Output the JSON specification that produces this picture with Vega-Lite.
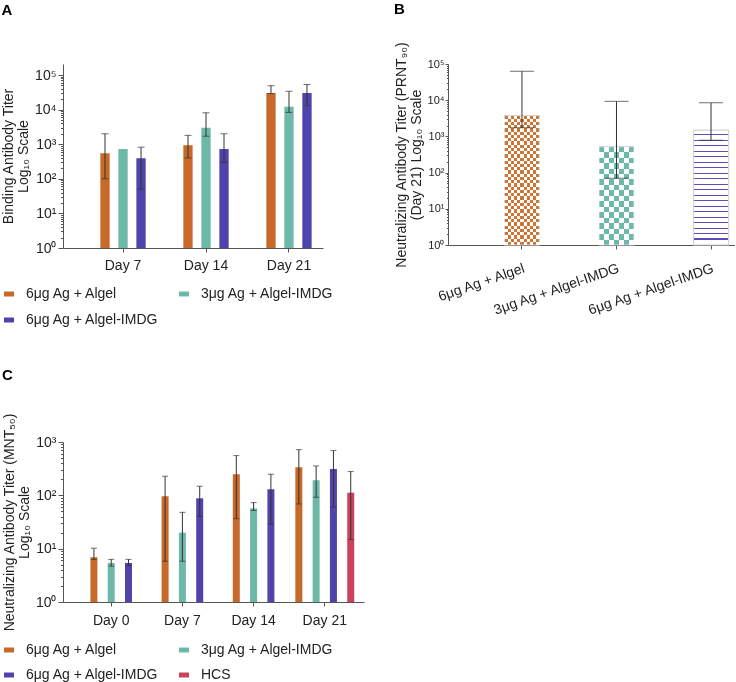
{
  "$schema": "https://vega.github.io/schema/vega-lite/v6.json",
  "background": "white",
  "padding": {"left": 1, "top": 2, "right": 0, "bottom": 0},
  "config": {
    "font": "Liberation Sans",
    "view": {"stroke": null},
    "axis": {"grid": false, "domainColor": "#555", "tickColor": "#555", "labelColor": "#222", "labelFont": "Liberation Sans", "labelFontSize": 14, "titleFont": "Liberation Sans", "titleFontSize": 14, "titleFontWeight": "normal", "titleColor": "#222", "labelOverlap": false, "titleLineHeight": 15},
    "legend": {"orient": "none", "columns": 2, "labelFont": "Liberation Sans", "labelFontSize": 14, "labelColor": "#222", "symbolType": "M-1,-0.5H1V0.5H-1Z", "symbolSize": 100, "symbolStrokeWidth": 0, "symbolOpacity": 1, "labelOffset": 10, "columnPadding": 18, "rowPadding": 12, "labelLimit": 300},
    "title": {"font": "Liberation Sans", "fontSize": 15, "fontWeight": "bold", "anchor": "start", "frame": "bounds", "color": "#000"}
  },
  "spacing": 40,
  "resolve": {"scale": {"color": "independent"}, "legend": {"color": "independent"}},
  "vconcat": [
    {
      "spacing": 60,
      "align": "none",
      "resolve": {"scale": {"color": "independent"}, "legend": {"color": "independent"}},
      "hconcat": [
        {
          "title": {"text": "A", "offset": 46},
          "width": 260,
          "height": 184,
          "data": {"values": [
            {"day": "Day 7", "group": "6μg Ag + Algel", "value": 550, "lo": 100, "hi": 2000},
            {"day": "Day 7", "group": "3μg Ag + Algel-IMDG", "value": 730, "lo": null, "hi": null},
            {"day": "Day 7", "group": "6μg Ag + Algel-IMDG", "value": 390, "lo": 50, "hi": 820},
            {"day": "Day 14", "group": "6μg Ag + Algel", "value": 930, "lo": 400, "hi": 1800},
            {"day": "Day 14", "group": "3μg Ag + Algel-IMDG", "value": 3000, "lo": 1700, "hi": 8100},
            {"day": "Day 14", "group": "6μg Ag + Algel-IMDG", "value": 730, "lo": 300, "hi": 2000},
            {"day": "Day 21", "group": "6μg Ag + Algel", "value": 30000, "lo": 29000, "hi": 49000},
            {"day": "Day 21", "group": "3μg Ag + Algel-IMDG", "value": 12000, "lo": 8300, "hi": 34000},
            {"day": "Day 21", "group": "6μg Ag + Algel-IMDG", "value": 30000, "lo": 13000, "hi": 53000}
          ]},
          "encoding": {
            "x": {"field": "day", "type": "nominal", "sort": ["Day 7", "Day 14", "Day 21"],
                  "scale": {"paddingInner": 0.349, "paddingOuter": 0.241, "align": 0.825},
                  "axis": {"title": null, "labelAngle": 0, "tickSize": 4, "labelPadding": 6}},
            "xOffset": {"field": "group", "type": "nominal",
                  "scale": {"domain": ["6μg Ag + Algel", "3μg Ag + Algel-IMDG", "6μg Ag + Algel-IMDG"], "paddingInner": 0.483, "paddingOuter": 0.2415}}
          },
          "layer": [
            {
              "mark": {"type": "bar"},
              "encoding": {
                "y": {"field": "value", "type": "quantitative",
                      "scale": {"type": "log", "domain": [1, 207970], "nice": false},
                      "axis": {"title": ["Binding Antibody Titer", "Log₁₀ Scale"], "titlePadding": 4, "labelPadding": 2, "tickSize": 5,
                               "values": [1,2,3,4,5,6,7,8,9,10,20,30,40,50,60,70,80,90,100,200,300,400,500,600,700,800,900,1000,2000,3000,4000,5000,6000,7000,8000,9000,10000,20000,30000,40000,50000,60000,70000,80000,90000,100000],
                               "labelExpr": "abs(log(datum.value)/LN10 - round(log(datum.value)/LN10)) < 0.01 ? '10' + ['⁰','¹','²','³','⁴','⁵'][round(log(datum.value)/LN10)] : ''",
                               "tickDash": {"condition": {"test": "abs(log(datum.value)/LN10 - round(log(datum.value)/LN10)) < 0.01", "value": []}, "value": [2.5, 20]}}},
                "y2": {"datum": 1},
                "color": {"field": "group", "type": "nominal",
                          "scale": {"domain": ["6μg Ag + Algel", "6μg Ag + Algel-IMDG", "3μg Ag + Algel-IMDG"], "range": ["#c8692a", "#5044ab", "#6db9a9"]},
                          "legend": {"title": null, "legendX": -61, "legendY": 223}}
              }
            },
            {
              "mark": {"type": "rule", "color": "#333", "strokeWidth": 1},
              "encoding": {"y": {"field": "lo", "type": "quantitative", "scale": {"type": "log", "domain": [1, 207970], "nice": false}}, "y2": {"field": "hi"}}
            },
            {
              "mark": {"type": "tick", "orient": "horizontal", "size": 7, "thickness": 1, "color": "#333"},
              "encoding": {"y": {"field": "hi", "type": "quantitative", "scale": {"type": "log", "domain": [1, 207970], "nice": false}}}
            },
            {
              "mark": {"type": "tick", "orient": "horizontal", "size": 7, "thickness": 1, "color": "#333"},
              "encoding": {"y": {"field": "lo", "type": "quantitative", "scale": {"type": "log", "domain": [1, 207970], "nice": false}}}
            }
          ]
        },
        {
          "title": {"text": "B", "offset": 24},
          "width": 287,
          "height": 181,
          "data": {"values": [
            {"group": "6μg Ag + Algel", "value": 3800, "lo": 1740, "hi": 63000},
            {"group": "3μg Ag + Algel-IMDG", "value": 520, "lo": 70, "hi": 9300},
            {"group": "6μg Ag + Algel-IMDG", "value": 1500, "lo": 780, "hi": 8500}
          ]},
          "encoding": {
            "x": {"field": "group", "type": "nominal", "sort": ["6μg Ag + Algel", "3μg Ag + Algel-IMDG", "6μg Ag + Algel-IMDG"],
                  "scale": {"paddingInner": 0.63, "paddingOuter": 0.333, "align": 0.897},
                  "axis": {"title": null, "labelAngle": -19, "labelAlign": "right", "labelBaseline": "top", "tickSize": 4, "labelPadding": 12}}
          },
          "layer": [
            {
              "transform": [{"filter": "datum.group == '6μg Ag + Algel'"}],
              "mark": {"type": "bar", "fill": {"gradient": "linear", "x1": 0, "y1": 0, "x2": 0, "y2": 1, "stops": [
                {"offset": 0, "color": "#000"}, {"offset": 0.025, "color": "#000"}, {"offset": 0.025, "color": "#fff"}, {"offset": 0.05, "color": "#fff"},
                {"offset": 0.05, "color": "#000"}, {"offset": 0.075, "color": "#000"}, {"offset": 0.075, "color": "#fff"}, {"offset": 0.1, "color": "#fff"},
                {"offset": 0.1, "color": "#000"}, {"offset": 0.125, "color": "#000"}, {"offset": 0.125, "color": "#fff"}, {"offset": 0.15, "color": "#fff"},
                {"offset": 0.15, "color": "#000"}, {"offset": 0.175, "color": "#000"}, {"offset": 0.175, "color": "#fff"}, {"offset": 0.2, "color": "#fff"},
                {"offset": 0.2, "color": "#000"}, {"offset": 0.225, "color": "#000"}, {"offset": 0.225, "color": "#fff"}, {"offset": 0.25, "color": "#fff"},
                {"offset": 0.25, "color": "#000"}, {"offset": 0.275, "color": "#000"}, {"offset": 0.275, "color": "#fff"}, {"offset": 0.3, "color": "#fff"},
                {"offset": 0.3, "color": "#000"}, {"offset": 0.325, "color": "#000"}, {"offset": 0.325, "color": "#fff"}, {"offset": 0.35, "color": "#fff"},
                {"offset": 0.35, "color": "#000"}, {"offset": 0.375, "color": "#000"}, {"offset": 0.375, "color": "#fff"}, {"offset": 0.4, "color": "#fff"},
                {"offset": 0.4, "color": "#000"}, {"offset": 0.425, "color": "#000"}, {"offset": 0.425, "color": "#fff"}, {"offset": 0.45, "color": "#fff"},
                {"offset": 0.45, "color": "#000"}, {"offset": 0.475, "color": "#000"}, {"offset": 0.475, "color": "#fff"}, {"offset": 0.5, "color": "#fff"},
                {"offset": 0.5, "color": "#000"}, {"offset": 0.525, "color": "#000"}, {"offset": 0.525, "color": "#fff"}, {"offset": 0.55, "color": "#fff"},
                {"offset": 0.55, "color": "#000"}, {"offset": 0.575, "color": "#000"}, {"offset": 0.575, "color": "#fff"}, {"offset": 0.6, "color": "#fff"},
                {"offset": 0.6, "color": "#000"}, {"offset": 0.625, "color": "#000"}, {"offset": 0.625, "color": "#fff"}, {"offset": 0.65, "color": "#fff"},
                {"offset": 0.65, "color": "#000"}, {"offset": 0.675, "color": "#000"}, {"offset": 0.675, "color": "#fff"}, {"offset": 0.7, "color": "#fff"},
                {"offset": 0.7, "color": "#000"}, {"offset": 0.725, "color": "#000"}, {"offset": 0.725, "color": "#fff"}, {"offset": 0.75, "color": "#fff"},
                {"offset": 0.75, "color": "#000"}, {"offset": 0.775, "color": "#000"}, {"offset": 0.775, "color": "#fff"}, {"offset": 0.8, "color": "#fff"},
                {"offset": 0.8, "color": "#000"}, {"offset": 0.825, "color": "#000"}, {"offset": 0.825, "color": "#fff"}, {"offset": 0.85, "color": "#fff"},
                {"offset": 0.85, "color": "#000"}, {"offset": 0.875, "color": "#000"}, {"offset": 0.875, "color": "#fff"}, {"offset": 0.9, "color": "#fff"},
                {"offset": 0.9, "color": "#000"}, {"offset": 0.925, "color": "#000"}, {"offset": 0.925, "color": "#fff"}, {"offset": 0.95, "color": "#fff"},
                {"offset": 0.95, "color": "#000"}, {"offset": 0.975, "color": "#000"}, {"offset": 0.975, "color": "#fff"}, {"offset": 1, "color": "#fff"}
              ]}},
              "encoding": {
                "y": {"field": "value", "type": "quantitative",
                      "scale": {"type": "log", "domain": [1, 100000], "nice": false},
                      "axis": {"title": ["Neutralizing Antibody Titer (PRNT₉₀)", "(Day 21) Log₁₀ Scale"], "titlePadding": 4, "labelPadding": 1, "tickSize": 3, "labelFontSize": 11,
                               "values": [1,2,3,4,5,6,7,8,9,10,20,30,40,50,60,70,80,90,100,200,300,400,500,600,700,800,900,1000,2000,3000,4000,5000,6000,7000,8000,9000,10000,20000,30000,40000,50000,60000,70000,80000,90000,100000],
                               "labelExpr": "abs(log(datum.value)/LN10 - round(log(datum.value)/LN10)) < 0.01 ? '10' + ['⁰','¹','²','³','⁴','⁵'][round(log(datum.value)/LN10)] : ''",
                               "tickDash": {"condition": {"test": "abs(log(datum.value)/LN10 - round(log(datum.value)/LN10)) < 0.01", "value": []}, "value": [1.5, 20]}}},
                "y2": {"datum": 1}
              }
            },
            {
              "transform": [{"filter": "datum.group == '6μg Ag + Algel'"}],
              "mark": {"type": "bar", "blend": "difference", "fill": {"gradient": "linear", "x1": 0, "y1": 0, "x2": 1, "y2": 0, "stops": [
                {"offset": 0, "color": "#000"}, {"offset": 0.0909, "color": "#000"}, {"offset": 0.0909, "color": "#fff"}, {"offset": 0.1818, "color": "#fff"},
                {"offset": 0.1818, "color": "#000"}, {"offset": 0.2727, "color": "#000"}, {"offset": 0.2727, "color": "#fff"}, {"offset": 0.3636, "color": "#fff"},
                {"offset": 0.3636, "color": "#000"}, {"offset": 0.4545, "color": "#000"}, {"offset": 0.4545, "color": "#fff"}, {"offset": 0.5455, "color": "#fff"},
                {"offset": 0.5455, "color": "#000"}, {"offset": 0.6364, "color": "#000"}, {"offset": 0.6364, "color": "#fff"}, {"offset": 0.7273, "color": "#fff"},
                {"offset": 0.7273, "color": "#000"}, {"offset": 0.8182, "color": "#000"}, {"offset": 0.8182, "color": "#fff"}, {"offset": 0.9091, "color": "#fff"},
                {"offset": 0.9091, "color": "#000"}, {"offset": 1, "color": "#000"}
              ]}},
              "encoding": {"y": {"field": "value", "type": "quantitative", "scale": {"type": "log", "domain": [1, 100000], "nice": false}}, "y2": {"datum": 1}}
            },
            {
              "transform": [{"filter": "datum.group == '6μg Ag + Algel'"}],
              "mark": {"type": "bar", "blend": "lighten", "fill": "#cf7432", "stroke": "#d4d4d4", "strokeWidth": 1.2},
              "encoding": {"y": {"field": "value", "type": "quantitative", "scale": {"type": "log", "domain": [1, 100000], "nice": false}}, "y2": {"datum": 1}}
            },
            {
              "transform": [{"filter": "datum.group == '3μg Ag + Algel-IMDG'"}],
              "mark": {"type": "bar", "fill": {"gradient": "linear", "x1": 0, "y1": 0, "x2": 0, "y2": 1, "stops": [
                {"offset": 0, "color": "#000"}, {"offset": 0.0556, "color": "#000"}, {"offset": 0.0556, "color": "#fff"}, {"offset": 0.1111, "color": "#fff"},
                {"offset": 0.1111, "color": "#000"}, {"offset": 0.1667, "color": "#000"}, {"offset": 0.1667, "color": "#fff"}, {"offset": 0.2222, "color": "#fff"},
                {"offset": 0.2222, "color": "#000"}, {"offset": 0.2778, "color": "#000"}, {"offset": 0.2778, "color": "#fff"}, {"offset": 0.3333, "color": "#fff"},
                {"offset": 0.3333, "color": "#000"}, {"offset": 0.3889, "color": "#000"}, {"offset": 0.3889, "color": "#fff"}, {"offset": 0.4444, "color": "#fff"},
                {"offset": 0.4444, "color": "#000"}, {"offset": 0.5, "color": "#000"}, {"offset": 0.5, "color": "#fff"}, {"offset": 0.5556, "color": "#fff"},
                {"offset": 0.5556, "color": "#000"}, {"offset": 0.6111, "color": "#000"}, {"offset": 0.6111, "color": "#fff"}, {"offset": 0.6667, "color": "#fff"},
                {"offset": 0.6667, "color": "#000"}, {"offset": 0.7222, "color": "#000"}, {"offset": 0.7222, "color": "#fff"}, {"offset": 0.7778, "color": "#fff"},
                {"offset": 0.7778, "color": "#000"}, {"offset": 0.8333, "color": "#000"}, {"offset": 0.8333, "color": "#fff"}, {"offset": 0.8889, "color": "#fff"},
                {"offset": 0.8889, "color": "#000"}, {"offset": 0.9444, "color": "#000"}, {"offset": 0.9444, "color": "#fff"}, {"offset": 1, "color": "#fff"}
              ]}},
              "encoding": {"y": {"field": "value", "type": "quantitative", "scale": {"type": "log", "domain": [1, 100000], "nice": false}}, "y2": {"datum": 1}}
            },
            {
              "transform": [{"filter": "datum.group == '3μg Ag + Algel-IMDG'"}],
              "mark": {"type": "bar", "blend": "difference", "fill": {"gradient": "linear", "x1": 0, "y1": 0, "x2": 1, "y2": 0, "stops": [
                {"offset": 0, "color": "#000"}, {"offset": 0.1429, "color": "#000"}, {"offset": 0.1429, "color": "#fff"}, {"offset": 0.2857, "color": "#fff"},
                {"offset": 0.2857, "color": "#000"}, {"offset": 0.4286, "color": "#000"}, {"offset": 0.4286, "color": "#fff"}, {"offset": 0.5714, "color": "#fff"},
                {"offset": 0.5714, "color": "#000"}, {"offset": 0.7143, "color": "#000"}, {"offset": 0.7143, "color": "#fff"}, {"offset": 0.8571, "color": "#fff"},
                {"offset": 0.8571, "color": "#000"}, {"offset": 1, "color": "#000"}
              ]}},
              "encoding": {"y": {"field": "value", "type": "quantitative", "scale": {"type": "log", "domain": [1, 100000], "nice": false}}, "y2": {"datum": 1}}
            },
            {
              "transform": [{"filter": "datum.group == '3μg Ag + Algel-IMDG'"}],
              "mark": {"type": "bar", "blend": "lighten", "fill": "#6db9a9", "stroke": "#d4d4d4", "strokeWidth": 1.2},
              "encoding": {"y": {"field": "value", "type": "quantitative", "scale": {"type": "log", "domain": [1, 100000], "nice": false}}, "y2": {"datum": 1}}
            },
            {
              "transform": [{"filter": "datum.group == '6μg Ag + Algel-IMDG'"}],
              "mark": {"type": "bar", "stroke": "#d4d4d4", "strokeWidth": 1.2, "fill": {"gradient": "linear", "x1": 0, "y1": 0, "x2": 0, "y2": 1, "stops": [
                {"offset": 0, "color": "#fff"}, {"offset": 0.0386, "color": "#fff"}, {"offset": 0.0386, "color": "#5a4fba"}, {"offset": 0.0476, "color": "#5a4fba"},
                {"offset": 0.0476, "color": "#fff"}, {"offset": 0.0862, "color": "#fff"}, {"offset": 0.0862, "color": "#5a4fba"}, {"offset": 0.0952, "color": "#5a4fba"},
                {"offset": 0.0952, "color": "#fff"}, {"offset": 0.1339, "color": "#fff"}, {"offset": 0.1339, "color": "#5a4fba"}, {"offset": 0.1429, "color": "#5a4fba"},
                {"offset": 0.1429, "color": "#fff"}, {"offset": 0.1815, "color": "#fff"}, {"offset": 0.1815, "color": "#5a4fba"}, {"offset": 0.1905, "color": "#5a4fba"},
                {"offset": 0.1905, "color": "#fff"}, {"offset": 0.2291, "color": "#fff"}, {"offset": 0.2291, "color": "#5a4fba"}, {"offset": 0.2381, "color": "#5a4fba"},
                {"offset": 0.2381, "color": "#fff"}, {"offset": 0.2767, "color": "#fff"}, {"offset": 0.2767, "color": "#5a4fba"}, {"offset": 0.2857, "color": "#5a4fba"},
                {"offset": 0.2857, "color": "#fff"}, {"offset": 0.3243, "color": "#fff"}, {"offset": 0.3243, "color": "#5a4fba"}, {"offset": 0.3333, "color": "#5a4fba"},
                {"offset": 0.3333, "color": "#fff"}, {"offset": 0.372, "color": "#fff"}, {"offset": 0.372, "color": "#5a4fba"}, {"offset": 0.381, "color": "#5a4fba"},
                {"offset": 0.381, "color": "#fff"}, {"offset": 0.4196, "color": "#fff"}, {"offset": 0.4196, "color": "#5a4fba"}, {"offset": 0.4286, "color": "#5a4fba"},
                {"offset": 0.4286, "color": "#fff"}, {"offset": 0.4672, "color": "#fff"}, {"offset": 0.4672, "color": "#5a4fba"}, {"offset": 0.4762, "color": "#5a4fba"},
                {"offset": 0.4762, "color": "#fff"}, {"offset": 0.5148, "color": "#fff"}, {"offset": 0.5148, "color": "#5a4fba"}, {"offset": 0.5238, "color": "#5a4fba"},
                {"offset": 0.5238, "color": "#fff"}, {"offset": 0.5624, "color": "#fff"}, {"offset": 0.5624, "color": "#5a4fba"}, {"offset": 0.5714, "color": "#5a4fba"},
                {"offset": 0.5714, "color": "#fff"}, {"offset": 0.61, "color": "#fff"}, {"offset": 0.61, "color": "#5a4fba"}, {"offset": 0.619, "color": "#5a4fba"},
                {"offset": 0.619, "color": "#fff"}, {"offset": 0.6577, "color": "#fff"}, {"offset": 0.6577, "color": "#5a4fba"}, {"offset": 0.6667, "color": "#5a4fba"},
                {"offset": 0.6667, "color": "#fff"}, {"offset": 0.7053, "color": "#fff"}, {"offset": 0.7053, "color": "#5a4fba"}, {"offset": 0.7143, "color": "#5a4fba"},
                {"offset": 0.7143, "color": "#fff"}, {"offset": 0.7529, "color": "#fff"}, {"offset": 0.7529, "color": "#5a4fba"}, {"offset": 0.7619, "color": "#5a4fba"},
                {"offset": 0.7619, "color": "#fff"}, {"offset": 0.8005, "color": "#fff"}, {"offset": 0.8005, "color": "#5a4fba"}, {"offset": 0.8095, "color": "#5a4fba"},
                {"offset": 0.8095, "color": "#fff"}, {"offset": 0.8481, "color": "#fff"}, {"offset": 0.8481, "color": "#5a4fba"}, {"offset": 0.8571, "color": "#5a4fba"},
                {"offset": 0.8571, "color": "#fff"}, {"offset": 0.8958, "color": "#fff"}, {"offset": 0.8958, "color": "#5a4fba"}, {"offset": 0.9048, "color": "#5a4fba"},
                {"offset": 0.9048, "color": "#fff"}, {"offset": 0.9434, "color": "#fff"}, {"offset": 0.9434, "color": "#5a4fba"}, {"offset": 0.9524, "color": "#5a4fba"},
                {"offset": 0.9524, "color": "#fff"}, {"offset": 1, "color": "#fff"}
              ]}},
              "encoding": {"y": {"field": "value", "type": "quantitative", "scale": {"type": "log", "domain": [1, 100000], "nice": false}}, "y2": {"datum": 1}}
            },
            {
              "mark": {"type": "rule", "color": "#333", "strokeWidth": 1},
              "encoding": {"y": {"field": "lo", "type": "quantitative", "scale": {"type": "log", "domain": [1, 100000], "nice": false}}, "y2": {"field": "hi"}}
            },
            {
              "mark": {"type": "tick", "orient": "horizontal", "size": 24, "thickness": 1, "color": "#333"},
              "encoding": {"y": {"field": "hi", "type": "quantitative", "scale": {"type": "log", "domain": [1, 100000], "nice": false}}}
            },
            {
              "mark": {"type": "tick", "orient": "horizontal", "size": 24, "thickness": 1, "color": "#333"},
              "encoding": {"y": {"field": "lo", "type": "quantitative", "scale": {"type": "log", "domain": [1, 100000], "nice": false}}}
            }
          ]
        }
      ]
    },
    {
      "title": {"text": "C", "offset": 30},
      "width": 301,
      "height": 160,
      "data": {"values": [
        {"day": "Day 0", "group": "6μg Ag + Algel", "value": 6.9, "lo": 6.3, "hi": 10.2},
        {"day": "Day 0", "group": "3μg Ag + Algel-IMDG", "value": 5.4, "lo": 4.7, "hi": 6.3},
        {"day": "Day 0", "group": "6μg Ag + Algel-IMDG", "value": 5.4, "lo": 4.8, "hi": 6.3},
        {"day": "Day 7", "group": "6μg Ag + Algel", "value": 96, "lo": 5.8, "hi": 228},
        {"day": "Day 7", "group": "3μg Ag + Algel-IMDG", "value": 20, "lo": 5.8, "hi": 48},
        {"day": "Day 7", "group": "6μg Ag + Algel-IMDG", "value": 88, "lo": 40, "hi": 148},
        {"day": "Day 14", "group": "6μg Ag + Algel", "value": 249, "lo": 36.5, "hi": 556},
        {"day": "Day 14", "group": "3μg Ag + Algel-IMDG", "value": 57, "lo": 52, "hi": 73},
        {"day": "Day 14", "group": "6μg Ag + Algel-IMDG", "value": 130, "lo": 28.7, "hi": 249},
        {"day": "Day 21", "group": "6μg Ag + Algel", "value": 337, "lo": 69, "hi": 719},
        {"day": "Day 21", "group": "3μg Ag + Algel-IMDG", "value": 192, "lo": 92, "hi": 356},
        {"day": "Day 21", "group": "6μg Ag + Algel-IMDG", "value": 313, "lo": 60, "hi": 690},
        {"day": "Day 21", "group": "HCS", "value": 112, "lo": 14.8, "hi": 279}
      ]},
      "encoding": {
        "x": {"field": "day", "type": "nominal", "sort": ["Day 0", "Day 7", "Day 14", "Day 21"],
              "scale": {"domain": ["Day 0", "Day 7", "Day 14", "Day 21"], "paddingInner": 0.028, "paddingOuter": 0.128, "align": 0.747},
              "axis": {"title": null, "labelAngle": 0, "tickSize": 4, "labelPadding": 7}}
      },
      "resolve": {"scale": {"xOffset": "independent"}},
      "layer": [
        {
          "transform": [{"filter": "datum.day != 'Day 21'"}],
          "encoding": {
            "xOffset": {"field": "group", "type": "nominal",
                        "scale": {"domain": ["6μg Ag + Algel", "3μg Ag + Algel-IMDG", "6μg Ag + Algel-IMDG"], "paddingInner": 0.595, "paddingOuter": 0.7975}}
          },
          "layer": [
            {
              "mark": {"type": "bar"},
              "encoding": {
                "y": {"field": "value", "type": "quantitative",
                      "scale": {"type": "log", "domain": [1, 1000], "nice": false},
                      "axis": {"title": ["Neutralizing Antibody Titer (MNT₅₀)", "Log₁₀ Scale"], "titlePadding": 4, "labelPadding": 2, "tickSize": 5,
                               "values": [1,2,3,4,5,6,7,8,9,10,20,30,40,50,60,70,80,90,100,200,300,400,500,600,700,800,900,1000],
                               "labelExpr": "abs(log(datum.value)/LN10 - round(log(datum.value)/LN10)) < 0.01 ? '10' + ['⁰','¹','²','³'][round(log(datum.value)/LN10)] : ''",
                               "tickDash": {"condition": {"test": "abs(log(datum.value)/LN10 - round(log(datum.value)/LN10)) < 0.01", "value": []}, "value": [2.5, 20]}}},
                "y2": {"datum": 1},
                "color": {"field": "group", "type": "nominal",
                          "scale": {"domain": ["6μg Ag + Algel", "6μg Ag + Algel-IMDG", "3μg Ag + Algel-IMDG", "HCS"], "range": ["#c8692a", "#5044ab", "#6db9a9", "#c9445a"]},
                          "legend": {"title": null, "legendX": -61, "legendY": 201, "rowPadding": 11}}
              }
            },
            {
              "mark": {"type": "rule", "color": "#333", "strokeWidth": 1},
              "encoding": {"y": {"field": "lo", "type": "quantitative", "scale": {"type": "log", "domain": [1, 1000], "nice": false}}, "y2": {"field": "hi"}}
            },
            {
              "mark": {"type": "tick", "orient": "horizontal", "size": 6, "thickness": 1, "color": "#333"},
              "encoding": {"y": {"field": "hi", "type": "quantitative", "scale": {"type": "log", "domain": [1, 1000], "nice": false}}}
            },
            {
              "mark": {"type": "tick", "orient": "horizontal", "size": 6, "thickness": 1, "color": "#333"},
              "encoding": {"y": {"field": "lo", "type": "quantitative", "scale": {"type": "log", "domain": [1, 1000], "nice": false}}}
            }
          ]
        },
        {
          "transform": [{"filter": "datum.day == 'Day 21'"}],
          "encoding": {
            "xOffset": {"field": "group", "type": "nominal",
                        "scale": {"domain": ["6μg Ag + Algel", "3μg Ag + Algel-IMDG", "6μg Ag + Algel-IMDG", "HCS"], "paddingInner": 0.595, "paddingOuter": 0.2975}}
          },
          "layer": [
            {
              "mark": {"type": "bar"},
              "encoding": {
                "y": {"field": "value", "type": "quantitative", "scale": {"type": "log", "domain": [1, 1000], "nice": false}},
                "y2": {"datum": 1},
                "color": {"field": "group", "type": "nominal",
                          "scale": {"domain": ["6μg Ag + Algel", "6μg Ag + Algel-IMDG", "3μg Ag + Algel-IMDG", "HCS"], "range": ["#c8692a", "#5044ab", "#6db9a9", "#c9445a"]},
                          "legend": {"title": null, "legendX": -61, "legendY": 201, "rowPadding": 11}}
              }
            },
            {
              "mark": {"type": "rule", "color": "#333", "strokeWidth": 1},
              "encoding": {"y": {"field": "lo", "type": "quantitative", "scale": {"type": "log", "domain": [1, 1000], "nice": false}}, "y2": {"field": "hi"}}
            },
            {
              "mark": {"type": "tick", "orient": "horizontal", "size": 6, "thickness": 1, "color": "#333"},
              "encoding": {"y": {"field": "hi", "type": "quantitative", "scale": {"type": "log", "domain": [1, 1000], "nice": false}}}
            },
            {
              "mark": {"type": "tick", "orient": "horizontal", "size": 6, "thickness": 1, "color": "#333"},
              "encoding": {"y": {"field": "lo", "type": "quantitative", "scale": {"type": "log", "domain": [1, 1000], "nice": false}}}
            }
          ]
        }
      ]
    }
  ]
}
